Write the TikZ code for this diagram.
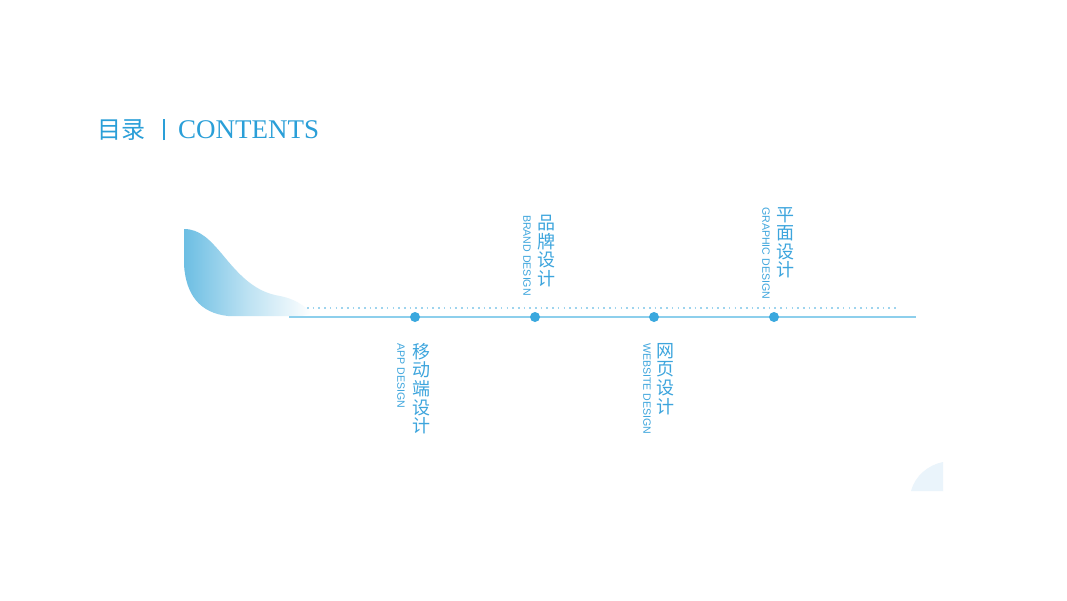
\documentclass[tikz,border=0pt]{standalone}
\usepackage{fontspec}
\setmainfont{Liberation Serif}
\setsansfont{Liberation Sans}
\newfontfamily\cjk{Noto Sans CJK SC}
\usetikzlibrary{positioning}

\definecolor{titleblue}{HTML}{2A9FD8}
\definecolor{textblue}{HTML}{3DA5DD}
\definecolor{dotblue}{HTML}{3AA8DE}
\definecolor{lineblue}{HTML}{8DCFEC}
\definecolor{dotline}{HTML}{9ED4EE}
\definecolor{paleblue}{HTML}{EAF4FB}
\definecolor{leafblue}{HTML}{6CBEE3}

\begin{document}
\begin{tikzpicture}[x=1pt, y=-1pt,
    dot/.style={circle, fill=dotblue, inner sep=0pt, minimum size=10pt},
    cnlabel/.style={anchor=north, inner sep=0pt, align=center, text=textblue,
        font=\cjk\fontsize{18}{18.6}\selectfont},
    enlabel/.style={anchor=west, rotate=-90, inner sep=0pt, text=textblue,
        font=\sffamily\fontsize{10.6}{12}\selectfont}]
    \useasboundingbox[fill=white] (0,0) rectangle (1067,600);

    % title
    \node[anchor=base west, inner sep=0pt, text=titleblue, font=\cjk\fontsize{24}{24}\selectfont] (titlecn) at (97,138) {目录};
    \node[inner sep=0pt, text=titleblue] (titlebar) at (164,129.5) {\rule{2.4pt}{21pt}};
    \node[anchor=base west, inner sep=0pt, text=titleblue, font=\fontsize{27}{27}\selectfont] (titleen) at (178,138) {CONTENTS};

    % leaf shape
    \shade[left color=leafblue, right color=white, middle color=leafblue!45]
        (184,229) .. controls (200,229) and (210,240) .. (222,254)
        .. controls (240,276) and (255,292) .. (280,296)
        .. controls (295,299) and (303,305) .. (312,313)
        -- (302,316) -- (228,316)
        .. controls (200,313) and (186,295) .. (184,265) -- cycle;

    % corner shape
    \fill[paleblue] (943,462) -- (943,491) -- (911,491) .. controls (915,476) and (928,465) .. (943,462) -- cycle;

    % time line
    \coordinate (linestart) at (289,317);
    \coordinate (lineend) at (916,317);
    \coordinate (dotstart) at (307,308);
    \coordinate (dotend) at (897,308);
    \draw[dotline, line width=1.6pt, dash pattern=on 1.6pt off 4.1pt] (dotstart) -- (dotend);
    \draw[lineblue, line width=1.5pt] (linestart) -- (lineend);

    \node[dot] (d1) at (415,317) {};
    \node[dot] (d2) at (535,317) {};
    \node[dot] (d3) at (654,317) {};
    \node[dot] (d4) at (774,317) {};

    % labels below
    \node[cnlabel] (app) at (421,343) {移\\动\\端\\设\\计};
    \node[enlabel] (appen) at (401,343) {APP DESIGN};
    \node[cnlabel] (web) at (665,343) {网\\页\\设\\计};
    \node[enlabel] (weben) at (647,343) {WEBSITE DESIGN};

    % labels above
    \node[cnlabel] (brand) at (546,215) {品\\牌\\设\\计};
    \node[enlabel] (branden) at (527,215) {BRAND DESIGN};
    \node[cnlabel] (graphic) at (785,207) {平\\面\\设\\计};
    \node[enlabel] (graphicen) at (766,207) {GRAPHIC DESIGN};
\end{tikzpicture}
\end{document}
